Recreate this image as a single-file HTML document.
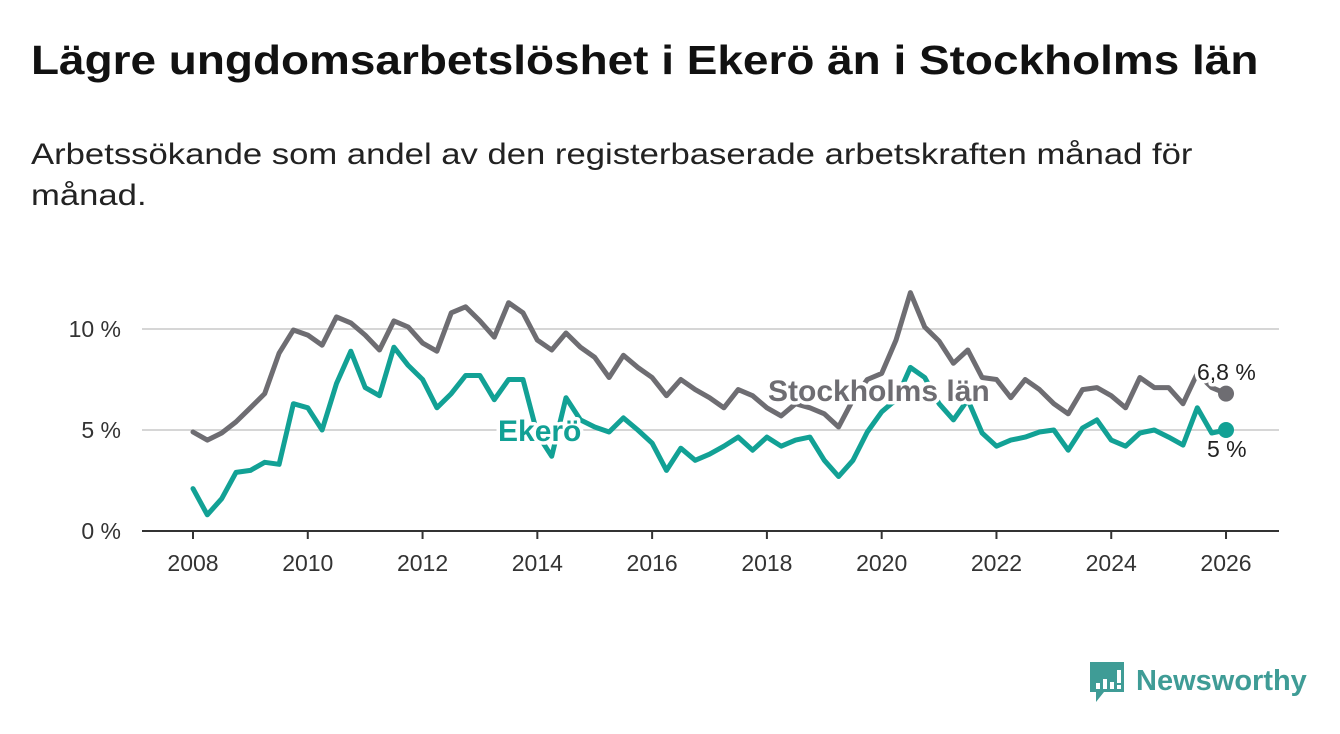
<!DOCTYPE html>
<html><head><meta charset="utf-8">
<style>
body{margin:0;width:1340px;height:734px;background:#fff;font-family:"Liberation Sans","DejaVu Sans",sans-serif;overflow:hidden;position:relative}
h1{position:absolute;left:31px;top:37px;margin:0;font-size:41px;font-weight:bold;color:#111;transform-origin:0 0;transform:scaleX(1.12);white-space:nowrap}
p.sub{position:absolute;left:31px;top:134px;margin:0;font-size:30px;line-height:41px;color:#222;width:1200px;transform-origin:0 0;transform:scaleX(1.155);white-space:nowrap}
svg{position:absolute;left:0;top:0}
</style></head><body>
<h1>Lägre ungdomsarbetslöshet i Ekerö än i Stockholms län</h1>
<p class="sub">Arbetssökande som andel av den registerbaserade arbetskraften månad för<br>månad.</p>
<svg id="chart" width="1340" height="734"></svg>
<svg width="1340" height="734" style="pointer-events:none">
  <path d="M1090 662 h34 v30 h-20 l-8 10 v-10 h-6 z" fill="#3f9c96"/>
  <rect x="1096" y="683" width="4" height="6" fill="#fff"/>
  <rect x="1103" y="679" width="4" height="10" fill="#fff"/>
  <rect x="1110" y="682" width="4" height="7" fill="#fff"/>
  <rect x="1117" y="670" width="4" height="13" fill="#fff"/>
  <rect x="1117" y="685" width="4" height="4" fill="#fff"/>
  <text x="1136" y="690" font-size="29" font-weight="bold" fill="#3f9c96" font-family="Liberation Sans, sans-serif">Newsworthy</text>
</svg>
<script>
const years = [];
for (let i = 0; i <= 72; i++) years.push(2008 + i * 0.25);
const stockholm = [4.9,4.5,4.85,5.4,6.1,6.8,8.8,9.95,9.7,9.2,10.6,10.3,9.7,8.96,10.4,10.1,9.3,8.9,10.8,11.1,10.4,9.6,11.3,10.8,9.45,8.96,9.8,9.1,8.6,7.6,8.7,8.1,7.6,6.7,7.5,7.0,6.6,6.1,7.0,6.7,6.1,5.7,6.3,6.1,5.8,5.15,6.5,7.5,7.8,9.45,11.8,10.1,9.4,8.3,8.96,7.6,7.5,6.6,7.5,7.0,6.3,5.8,7.0,7.1,6.7,6.1,7.6,7.1,7.1,6.3,7.8,7.1,6.8];
const ekero = [2.1,0.8,1.6,2.9,3.0,3.4,3.3,6.3,6.1,5.0,7.3,8.9,7.1,6.7,9.1,8.2,7.5,6.1,6.8,7.7,7.7,6.5,7.5,7.5,4.8,3.7,6.6,5.5,5.15,4.9,5.6,5.0,4.35,3.0,4.1,3.5,3.8,4.2,4.65,4.0,4.65,4.2,4.5,4.65,3.5,2.7,3.5,4.9,5.9,6.5,8.1,7.6,6.3,5.5,6.5,4.85,4.2,4.5,4.65,4.9,5.0,4.0,5.1,5.5,4.5,4.2,4.85,5.0,4.65,4.25,6.1,4.85,5.0];
const yTicks = [0,5,10];
const yTickLabels = ["0 %","5 %","10 %"];
const xTicks = [2008,2010,2012,2014,2016,2018,2020,2022,2024,2026];

const NS="http://www.w3.org/2000/svg";
const svg=document.getElementById('chart');
const xS=t=>193+(t-2008)*57.39;
const yS=v=>531-v*20.2;
function mk(tag,attrs,parent){const e=document.createElementNS(NS,tag);for(const k in attrs)e.setAttribute(k,attrs[k]);(parent||svg).appendChild(e);return e;}

yTicks.forEach((v,i)=>{
  if(v>0){const g=mk('line',{x1:142,x2:1279,y1:yS(v),y2:yS(v),stroke:'#d6d6d6','stroke-width':2});
  
  }
  const t=mk('text',{x:121,y:yS(v)+8,'text-anchor':'end','font-size':23,fill:'#333'});
  t.textContent=yTickLabels[i];
  
  
});
const ax=mk('line',{x1:142,x2:1279,y1:531,y2:531,stroke:'#333','stroke-width':2});


xTicks.forEach(y=>{
  const tk=mk('line',{x1:xS(y),x2:xS(y),y1:531,y2:539,stroke:'#333','stroke-width':2});
  
  
  const t=mk('text',{x:xS(y),y:571,'text-anchor':'middle','font-size':23,fill:'#333'});
  t.textContent=y;
  
  
});
function line(vals,color,name){
  const d=vals.map((v,i)=>(i?'L':'M')+xS(years[i]).toFixed(1)+' '+yS(v).toFixed(1)).join(' ');
  const p=mk('path',{d:d,fill:'none',stroke:color,'stroke-width':5,'stroke-linejoin':'round','stroke-linecap':'round'});
  
  
  const n=vals.length-1;
  const c=mk('circle',{cx:xS(years[n]),cy:yS(vals[n]),r:8,fill:color});
  
  
}
const GRAY='#6e6d72',TEAL='#12a195';
line(stockholm,GRAY,'stockholm-line');
line(ekero,TEAL,'ekero-line');
function label(x,y,txt,color,size,bold,name,anchor){
  const t=mk('text',{x:x,y:y,'font-size':size,'font-weight':bold?'bold':'normal',fill:color,stroke:'#fff','stroke-width':7,'paint-order':'stroke','stroke-linejoin':'round','text-anchor':anchor||'start'});
  t.textContent=txt;
  
  
}
label(768,401,'Stockholms län',GRAY,30,true,'stockholm-label');
label(498,441,'Ekerö',TEAL,30,true,'ekero-label');
label(1197,380,'6,8 %','#222',23,false,'stockholm-end-value');
label(1207,457,'5 %','#222',23,false,'ekero-end-value');
</script>
</body></html>
